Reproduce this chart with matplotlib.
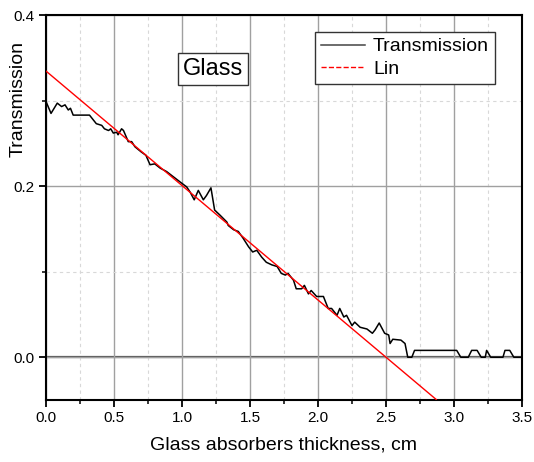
import numpy as np
import matplotlib.pyplot as plt
from matplotlib.ticker import MultipleLocator

plt.rcParams['font.family'] = ['Liberation Sans', 'DejaVu Sans']

# transmission curve
thick = [0.0, 0.037, 0.083, 0.115, 0.14, 0.164, 0.18, 0.20, 0.32, 0.35, 0.37, 0.41,
         0.43, 0.46, 0.476, 0.495, 0.52, 0.53, 0.556, 0.57, 0.605, 0.63, 0.654,
         0.70, 0.735, 0.765, 0.80, 0.84, 0.887, 0.936, 0.985, 1.035, 1.06, 1.09,
         1.12, 1.157, 1.18, 1.213, 1.24, 1.28, 1.33, 1.34, 1.38, 1.414, 1.45,
         1.49, 1.52, 1.55, 1.586, 1.62, 1.66, 1.70, 1.73, 1.76, 1.78, 1.82, 1.84,
         1.88, 1.90, 1.93, 1.95, 1.99, 2.04, 2.05, 2.075, 2.10, 2.14, 2.16, 2.19,
         2.21, 2.25, 2.27, 2.31, 2.36, 2.40, 2.42, 2.45, 2.49, 2.52, 2.53, 2.55,
         2.61, 2.64, 2.66, 2.69, 2.71, 3.02, 3.05, 3.105, 3.13, 3.17, 3.20, 3.23,
         3.24, 3.27, 3.36, 3.375, 3.41, 3.44, 3.5]
trans = [0.299, 0.285, 0.297, 0.293, 0.295, 0.289, 0.291, 0.283, 0.283, 0.277,
         0.273, 0.271, 0.267, 0.265, 0.267, 0.262, 0.263, 0.260, 0.267, 0.265,
         0.252, 0.252, 0.246, 0.240, 0.236, 0.225, 0.226, 0.221, 0.217, 0.211,
         0.205, 0.199, 0.193, 0.184, 0.195, 0.184, 0.189, 0.198, 0.172, 0.166,
         0.158, 0.154, 0.149, 0.147, 0.139, 0.129, 0.123, 0.125, 0.117, 0.111,
         0.108, 0.106, 0.098, 0.096, 0.098, 0.090, 0.080, 0.080, 0.084, 0.074,
         0.078, 0.071, 0.071, 0.067, 0.057, 0.057, 0.049, 0.057, 0.047, 0.049,
         0.037, 0.041, 0.035, 0.033, 0.028, 0.032, 0.040, 0.028, 0.026, 0.016,
         0.021, 0.020, 0.016, 0.000, 0.000, 0.008, 0.008, 0.000, 0.000, 0.008,
         0.008, 0.000, 0.000, 0.008, 0.000, 0.000, 0.008, 0.008, 0.000, 0.000]

# linear fit
lin_x = [0.0, 2.87]
lin_y = [0.3345, -0.0495]

fig = plt.figure(figsize=(5.34, 4.62), dpi=100)
ax = fig.add_axes([0.0861, 0.1342, 0.8914, 0.8333])

ax.set_xlim(0, 3.5)
ax.set_ylim(-0.05, 0.4)
ax.xaxis.set_major_locator(MultipleLocator(0.5))
ax.xaxis.set_minor_locator(MultipleLocator(0.25))
ax.set_yticks([0.0, 0.2, 0.4])
ax.set_yticks([0.1, 0.3], minor=True)
ax.xaxis.set_major_formatter(plt.FormatStrFormatter('%.1f'))
ax.yaxis.set_major_formatter(plt.FormatStrFormatter('%.1f'))

ax.grid(which='major', color='#a0a0a0', lw=1.0, ls='-')
ax.grid(which='minor', color='#d8d8d8', lw=0.8, ls=(0, (3, 3)))
ax.axhline(0, color='#555555', lw=1.6, zorder=1.5)

ax.plot(thick, trans, color='black', lw=1.1, label='Transmission', zorder=3)
ax.plot(lin_x, lin_y, color='red', lw=1.0, label='Lin', zorder=4)

for s in ax.spines.values():
    s.set_linewidth(1.5)
ax.tick_params(which='major', direction='out', length=5, width=1.3, labelsize=11, pad=3)
ax.tick_params(which='minor', direction='out', length=3, width=1.1)

ax.set_xlabel('Glass absorbers thickness, cm', fontsize=14, labelpad=8)
ax.set_ylabel('Transmission', fontsize=14)
ax.yaxis.label.set_verticalalignment('center')
ax.yaxis.set_label_coords(-0.059, 0.782)

# legend shows Lin as dashed
h_t, = ax.plot([], [], color='#444444', lw=1.1)
h_l, = ax.plot([], [], color='red', lw=1.0, ls='--')
leg = ax.legend([h_t, h_l], ['Transmission', 'Lin'], loc='upper right',
                bbox_to_anchor=(0.943, 0.956), borderaxespad=0, fontsize=14,
                fancybox=False, framealpha=1, edgecolor='#333333',
                handlelength=2.3, handletextpad=0.4, labelspacing=0.25,
                borderpad=0.3)
leg.get_frame().set_linewidth(1.0)

ax.text(1.23, 0.337, 'Glass', fontsize=17, ha='center', va='center',
        bbox=dict(boxstyle='square,pad=0.2', fc='white', ec='#333333', lw=1.0), zorder=5)

fig.savefig('out.png', dpi=100)
